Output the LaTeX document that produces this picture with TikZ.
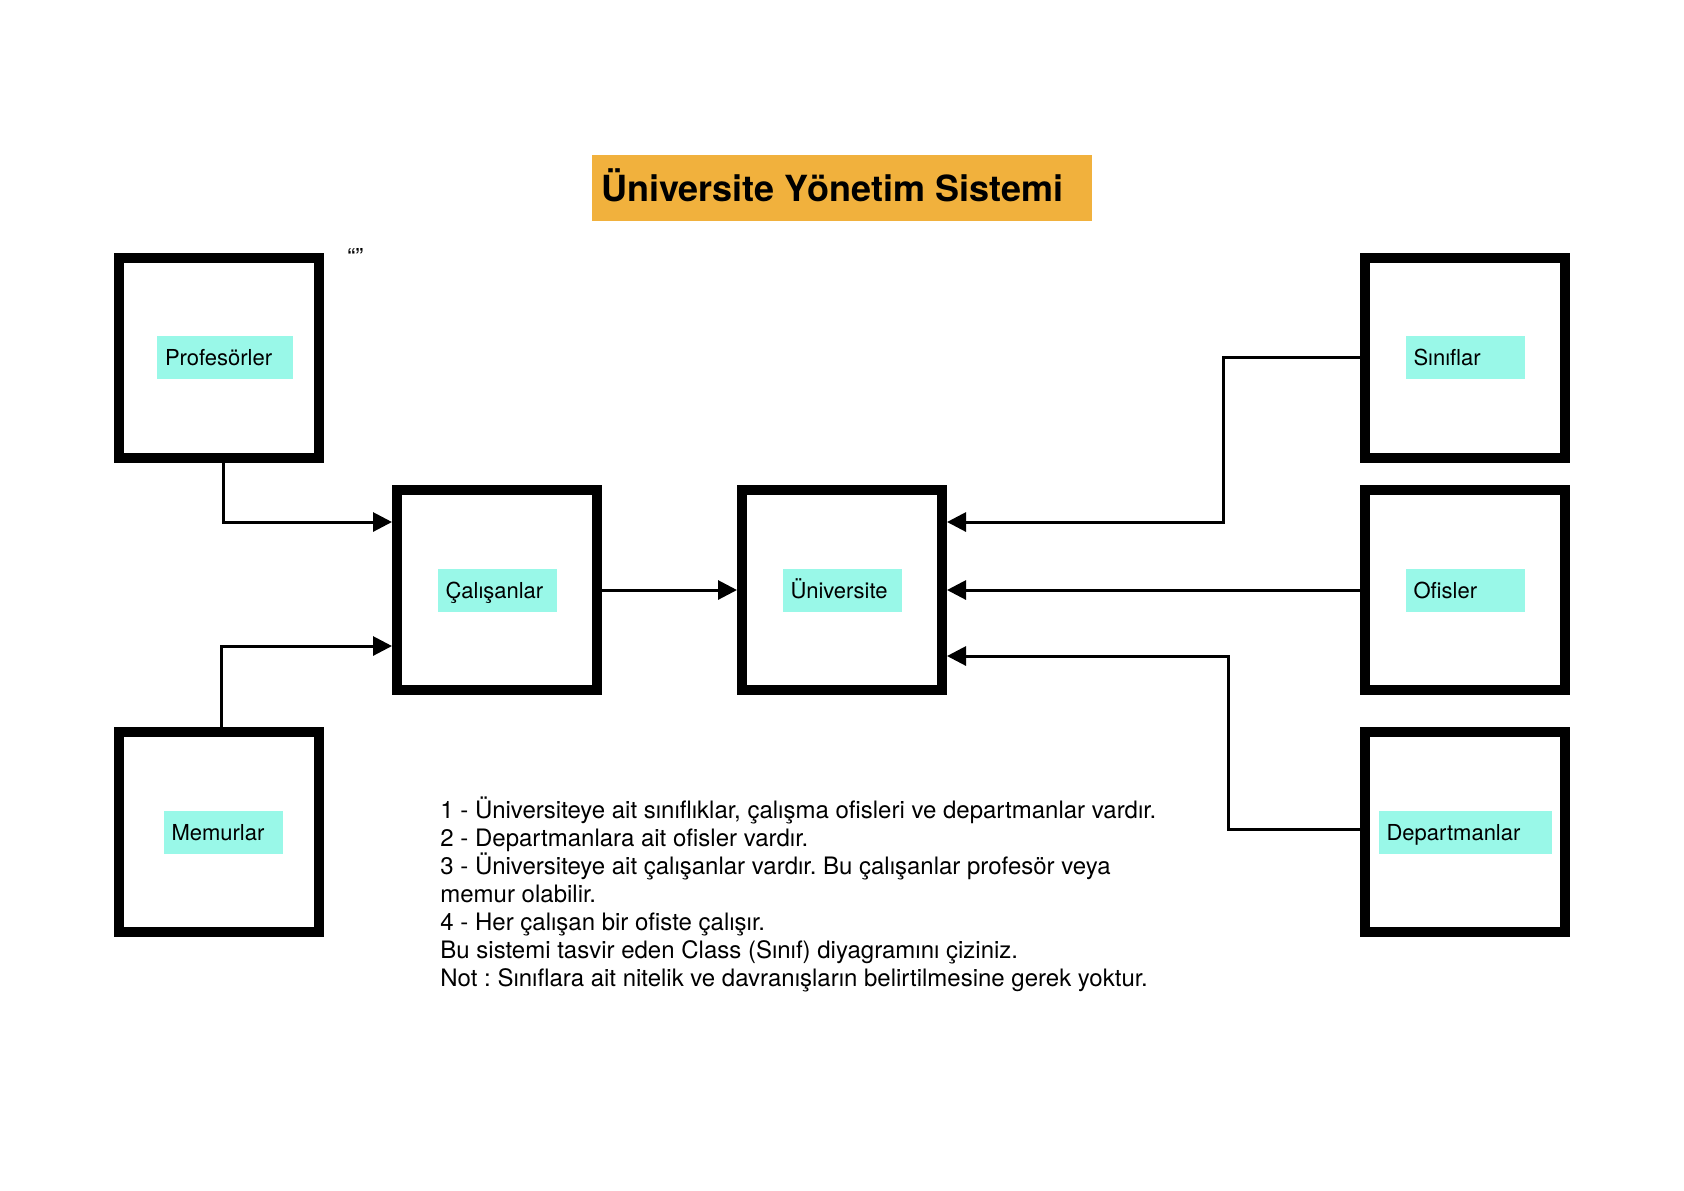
\documentclass[tikz,border=0pt]{standalone}
\usepackage{fontspec}
\setmainfont{TeX Gyre Heros}
\frenchspacing
\usetikzlibrary{arrows.meta}
\definecolor{tagcyan}{RGB}{153,248,232}
\definecolor{titleorange}{RGB}{241,177,61}

\begin{document}
\begin{tikzpicture}[x=0.5pt, y=-0.5pt,
    classbox/.style={draw, line width=5pt, minimum width=100pt, minimum height=100pt},
    classtag/.style={fill=tagcyan, minimum height=21.5pt, inner xsep=4pt, inner ysep=0pt,
        align=left, text height=8pt, text depth=0pt, font=\fontsize{11}{13}\selectfont},
    assoc/.style={line width=1.5pt, -{Triangle[length=9.5pt, width=9.5pt]}}]
    \useasboundingbox (0,0) rectangle (1684,1190);
    \fill[white] (0,0) rectangle (1684,1190);

    % baslik
    \node[fill=titleorange, minimum width=250pt, minimum height=33pt] (title) at (842,188) {};
    \node[anchor=west, inner xsep=0pt, font=\bfseries\fontsize{18}{22}\selectfont] (title-text)
        at ([xshift=4.5pt, yshift=1.5pt]title.west) {Üniversite Yönetim Sistemi};
    \node[anchor=base west, inner sep=0pt, font=\fontsize{12}{14}\selectfont] (quote) at (347,265) {“”};

    % siniflar
    \foreach \n/\x/\y/\dx/\t/\w in {prof/219/357.5/3pt/Profesörler/60pt, cal/497/590/0pt/Çalışanlar/51.5pt,
            uni/842/590/0pt/Üniversite/51.5pt, mem/219/832/2pt/Memurlar/51.5pt,
            sin/1465/357.5/0pt/Sınıflar/51.5pt, ofi/1465/590/0pt/Ofisler/51.5pt,
            dep/1465/832/0pt/Departmanlar/78.5pt}{
        \node[classbox] (\n) at (\x,\y) {};
        \node[classtag, text width=\w] (\n-tag) at ([xshift=\dx]\n) {\t};}

    % iliskiler
    \draw[assoc] ([xshift=2pt]prof.south) |- ([yshift=34pt]cal.west);
    \draw[assoc] ([xshift=1pt]mem.north) |- ([yshift=-28pt]cal.west);
    \draw[assoc] (cal.east) -- (uni.west);
    \draw[assoc] (sin.west) -- ++(-137,0) |- ([yshift=34pt]uni.east);
    \draw[assoc] (ofi.west) -- (uni.east);
    \draw[assoc] ([yshift=1.5pt]dep.west) -- ++(-132,0) |- ([yshift=-33pt]uni.east);

    \node[anchor=north west, inner sep=0pt, align=left, font=\fontsize{12}{14}\selectfont] (notes) at (440,796)
        {1 - Üniversiteye ait sınıflıklar, çalışma ofisleri ve departmanlar vardır.\\
         2 - Departmanlara ait ofisler vardır.\\
         3 - Üniversiteye ait çalışanlar vardır. Bu çalışanlar profesör veya\\
         memur olabilir.\\
         4 - Her çalışan bir ofiste çalışır.\\
         Bu sistemi tasvir eden Class (Sınıf) diyagramını çiziniz.\\
         Not : Sınıflara ait nitelik ve davranışların belirtilmesine gerek yoktur.};
\end{tikzpicture}
\end{document}
